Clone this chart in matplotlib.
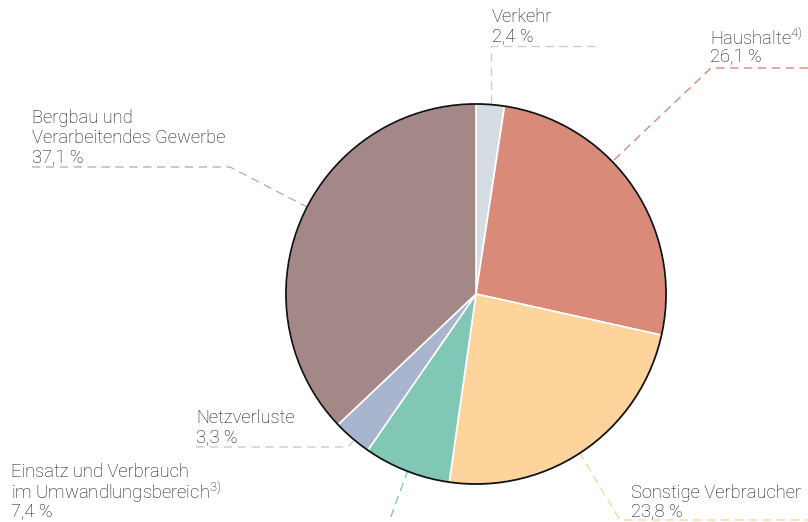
import numpy as np
import matplotlib.pyplot as plt

plt.rcParams['font.family'] = ['Roboto', 'DejaVu Sans']
plt.rcParams['mathtext.fontset'] = 'custom'
plt.rcParams['mathtext.rm'] = 'Roboto:weight=light'

# Anteile in Prozent, im Uhrzeigersinn ab 12 Uhr
names = ['Verkehr', 'Haushalte', 'Sonstige Verbraucher',
         'Einsatz und Verbrauch im Umwandlungsbereich', 'Netzverluste',
         'Bergbau und Verarbeitendes Gewerbe']
shares = [2.4, 26.1, 23.8, 7.4, 3.3, 37.1]
colors = ['#d5dce2', '#d98a78', '#fdd49b', '#81c7b5', '#a9b4ce', '#a38887']
value_labels = ['2,4 %', '26,1 %', '23,8 %', '7,4 %', '3,3 %', '37,1 %']

W, H = 808, 522
fig = plt.figure(figsize=(W / 100, H / 100), dpi=100)
ax = fig.add_axes([0, 0, 1, 1])

cx, cy, r = 476, H - 294, 190
wedges, _ = ax.pie(shares, colors=colors, startangle=90, counterclock=False,
                   center=(cx, cy), radius=r, frame=True,
                   wedgeprops=dict(edgecolor='white', linewidth=1.2))
ax.set_xlim(0, W)
ax.set_ylim(0, H)
ax.set_aspect('equal')
ax.axis('off')
ax.add_patch(plt.Circle((cx, cy), r, fill=False, edgecolor='#111111', lw=1.3, zorder=5))

tc = '#151515'
fs = 13.2

def txt(x, y, s):
    ax.text(x, H - y, s, fontsize=fs, color=tc, va='center', ha='left',
            fontweight='light')

def leader(pts, color):
    xs = [p[0] for p in pts]
    ys = [H - p[1] for p in pts]
    ax.plot(xs, ys, color=color, lw=1.0, ls=(0, (6, 4)), zorder=1, clip_on=False)

# Verkehr
txt(492, 17, 'Verkehr')
txt(492, 36, value_labels[0])
leader([(491, 103), (491, 46), (598, 46)], '#c5ced8')

# Haushalte
txt(710, 38, 'Haushalte$^{4)}$')
txt(710, 57, value_labels[1])
leader([(614, 160), (711, 68), (808, 68)], colors[1])

# Sonstige Verbraucher
txt(631, 493, 'Sonstige Verbraucher')
txt(631, 511, value_labels[2])
leader([(579, 452), (620, 520), (808, 520)], colors[2])

# Einsatz und Verbrauch
txt(11, 472, 'Einsatz und Verbrauch')
txt(11, 492, 'im Umwandlungsbereich$^{3)}$')
txt(11, 511, value_labels[3])
leader([(408, 470), (386, 530)], colors[3])

# Netzverluste
txt(196, 418, 'Netzverluste')
txt(196, 437, value_labels[4])
leader([(196, 447), (348, 447), (353, 441)], '#c5cade')

# Bergbau
txt(32, 118, 'Bergbau und')
txt(32, 138, 'Verarbeitendes Gewerbe')
txt(32, 158, value_labels[5])
leader([(32, 167), (230, 167), (307, 207)], '#c3aeae')

fig.savefig('out.png', dpi=100)
